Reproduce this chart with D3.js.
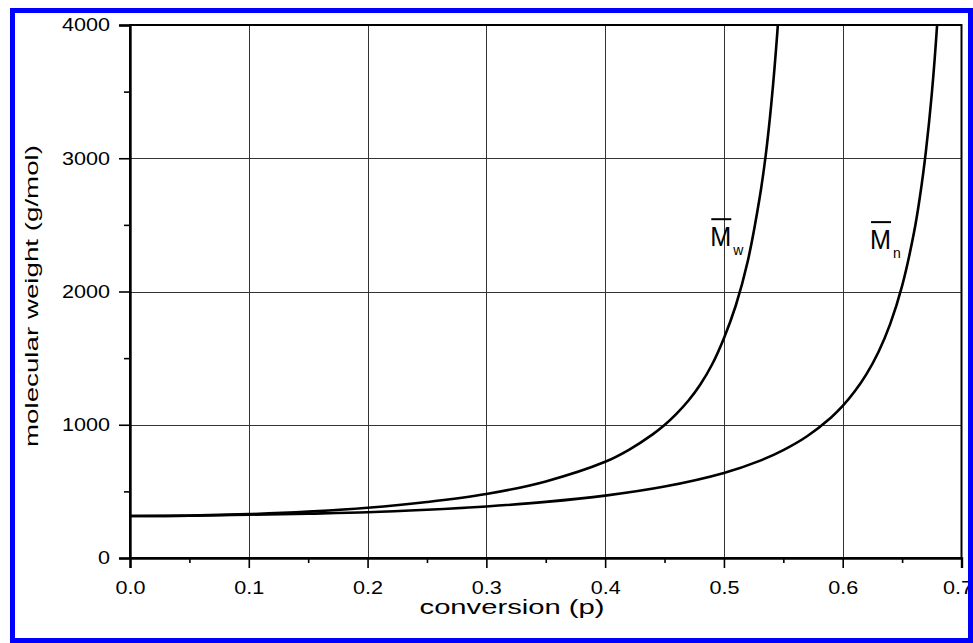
<!DOCTYPE html>
<html>
<head>
<meta charset="utf-8">
<script src="https://cdn.jsdelivr.net/npm/d3@7"></script>
<style>
  html, body { margin: 0; padding: 0; background: #fff; }
  svg { display: block; }
  text { font-family: "Liberation Sans", Arial, Helvetica, sans-serif; fill: #000; }
</style>
</head>
<body>
<svg id="chart" width="973" height="643"></svg>
<script>
// ---- data ----
const mwConversion = [0.00, 0.05, 0.10, 0.15, 0.20, 0.25, 0.30, 0.35, 0.40, 0.42, 0.44, 0.45, 0.46, 0.47, 0.48, 0.49, 0.50, 0.51, 0.52, 0.53, 0.535, 0.54, 0.545, 0.55];
const mwValues     = [315,  318,  329,  348,  377,  420,  480,  575,  722,  812,  928,  998,  1082, 1180, 1300, 1452, 1650, 1895, 2225, 2700, 3010,  3420, 3950,  4650];
const mnConversion = [0.00, 0.05, 0.10, 0.15, 0.20, 0.25, 0.30, 0.35, 0.40, 0.45, 0.50, 0.53, 0.55, 0.57, 0.59, 0.60, 0.61, 0.62, 0.63, 0.64, 0.65, 0.66, 0.665, 0.67, 0.675, 0.68, 0.685];
const mnValues     = [315,  317,  325,  333,  343,  362,  387,  421,  468,  536,  638,  729,  810,  914,  1053, 1141, 1249, 1380, 1544, 1757, 2042, 2442, 2711,  3050, 3484,  4073, 4900];
const xTickValues = [0.0, 0.1, 0.2, 0.3, 0.4, 0.5, 0.6, 0.7];
const xTickLabels = ["0.0", "0.1", "0.2", "0.3", "0.4", "0.5", "0.6", "0.7"];
const yTickValues = [0, 1000, 2000, 3000, 4000];
const yTickLabels = ["0", "1000", "2000", "3000", "4000"];
const xMinorValues = [0.05, 0.15, 0.25, 0.35, 0.45, 0.55, 0.65];
const yMinorValues = [500, 1500, 2500, 3500];
const xTitle = "conversion (p)";
const yTitle = "molecular weight (g/mol)";
const seriesLabels = [
  { main: "M", sub: "w", p: 0.4885, m: 2340 },
  { main: "M", sub: "n", p: 0.6230, m: 2318 }
];

// ---- layout ----
const svg = d3.select("#chart");
const pL = 130, pR = 961.5, pT = 25, pB = 558;
const x = d3.scaleLinear().domain([0, 0.7]).range([pL, pR]);
const y = d3.scaleLinear().domain([0, 4000]).range([pB, pT]);
const SX = 1.2;   // horizontal stretch of the scanned tick lettering
const ST = 1.46;  // stretch of the axis titles

// grid
const grid = svg.append("g").attr("stroke", "#333").attr("stroke-width", 1);
grid.selectAll("line.gx").data(xTickValues.slice(1, -1)).join("line")
  .attr("x1", d => Math.round(x(d)) + 0.5).attr("x2", d => Math.round(x(d)) + 0.5)
  .attr("y1", pT).attr("y2", pB);
grid.selectAll("line.gy").data(yTickValues.slice(1, -1)).join("line")
  .attr("y1", d => Math.round(y(d)) + 0.5).attr("y2", d => Math.round(y(d)) + 0.5)
  .attr("x1", pL).attr("x2", pR);

// curves
const clipId = "plotclip";
svg.append("clipPath").attr("id", clipId).append("rect")
  .attr("x", pL).attr("y", pT).attr("width", pR - pL).attr("height", pB - pT);
const line = d3.line().x(d => x(d[0])).y(d => y(d[1])).curve(d3.curveCatmullRom.alpha(0.5));
const curves = svg.append("g").attr("clip-path", `url(#${clipId})`);
[[mwConversion, mwValues], [mnConversion, mnValues]].forEach(([ps, ms]) => {
  curves.append("path")
    .datum(ps.map((p, i) => [p, ms[i]]))
    .attr("d", line)
    .attr("fill", "none").attr("stroke", "#000").attr("stroke-width", 2.6)
    .attr("stroke-linejoin", "round");
});

// frame (top & right)
svg.append("rect")
  .attr("x", pL).attr("y", pT).attr("width", pR - pL).attr("height", pB - pT)
  .attr("fill", "none").attr("stroke", "#000").attr("stroke-width", 2);

// x axis
const xAxis = svg.append("g").attr("transform", `translate(0,${pB})`)
  .call(d3.axisBottom(x).tickValues(xTickValues).tickSize(10).tickPadding(13)
    .tickFormat((d, i) => xTickLabels[i]));
xAxis.select(".domain").attr("stroke-width", 2.4);
xAxis.selectAll(".tick line").attr("stroke-width", 1.6);
xAxis.selectAll(".tick text").attr("font-size", 18).attr("font-family", null)
  .attr("x", (d, i, n) => i === n.length - 1 ? -4 / SX : 0)
  .attr("transform", `scale(${SX},1)`);
svg.append("g").attr("transform", `translate(0,${pB})`)
  .call(d3.axisBottom(x).tickValues(xMinorValues).tickSize(5).tickFormat(""))
  .call(g => g.select(".domain").remove())
  .selectAll(".tick line").attr("stroke-width", 1.6);

// y axis
const yAxis = svg.append("g").attr("transform", `translate(${pL},0)`)
  .call(d3.axisLeft(y).tickValues(yTickValues).tickSize(11).tickPadding(9)
    .tickFormat((d, i) => yTickLabels[i]));
yAxis.select(".domain").attr("stroke-width", 2.4);
yAxis.selectAll(".tick line").attr("stroke-width", 1.6);
yAxis.selectAll(".tick text").attr("font-size", 18).attr("font-family", null)
  .attr("x", -20 / SX).attr("transform", `scale(${SX},1)`);
svg.append("g").attr("transform", `translate(${pL},0)`)
  .call(d3.axisLeft(y).tickValues(yMinorValues).tickSize(6).tickFormat(""))
  .call(g => g.select(".domain").remove())
  .selectAll(".tick line").attr("stroke-width", 1.6);

// axis titles
svg.append("text")
  .attr("transform", `translate(512,614) scale(${ST},1)`)
  .attr("text-anchor", "middle").attr("font-size", 20).text(xTitle);
svg.append("text")
  .attr("transform", `translate(38,296) rotate(-90) scale(${ST},1)`)
  .attr("text-anchor", "middle").attr("font-size", 19).text(yTitle);

// series labels (M with overbar and subscript)
seriesLabels.forEach(l => {
  const g = svg.append("g").attr("transform", `translate(${x(l.p)},${y(l.m)})`);
  g.append("text").attr("x", 0).attr("y", 0).attr("font-size", 28)
    .attr("transform", "scale(0.9,1)").text(l.main);
  g.append("line").attr("x1", 1).attr("x2", 21).attr("y1", -27).attr("y2", -27)
    .attr("stroke", "#000").attr("stroke-width", 2);
  g.append("text").attr("x", 23).attr("y", 9).attr("font-size", 14).text(l.sub);
});

// outer blue frame (drawn last, it covers the clipped "0.7")
svg.append("rect")
  .attr("x", 12.5).attr("y", 10.5).attr("width", 958).attr("height", 630)
  .attr("fill", "none").attr("stroke", "#0000ff").attr("stroke-width", 5);
</script>
</body>
</html>
